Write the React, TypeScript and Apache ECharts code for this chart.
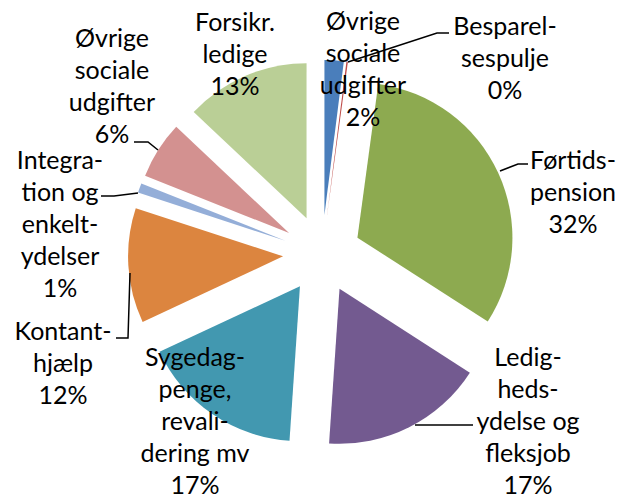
import React, { useEffect, useRef } from "react";
import * as echarts from "echarts";

const categories = [
  "Øvrige\nsociale\nudgifter",
  "Besparel-\nsespulje",
  "Førtids-\npension",
  "Ledig-\nheds-\nydelse og\nfleksjob",
  "Sygedag-\npenge,\nrevali-\ndering mv",
  "Kontant-\nhjælp",
  "Integra-\ntion og\nenkelt-\nydelser",
  "Øvrige\nsociale\nudgifter",
  "Forsikr.\nledige",
];
const values = [2, 0.15, 32, 17, 17, 12, 1, 6, 13];
const percentLabels = ["2%", "0%", "32%", "17%", "17%", "12%", "1%", "6%", "13%"];

const colors = ["#4A7EBB", "#BE4B48", "#8DAA50", "#735A90", "#4298B0", "#DC853F", "#94AED8", "#D39190", "#BACF96"];

// label layout (positions of label centres and leader lines)
const labelCenters: [number, number][] = [
  [363, 68],
  [505, 57],
  [573, 191],
  [528, 420],
  [195, 420],
  [63, 362],
  [60, 223],
  [112, 85],
  [235, 53],
];
const leaderLines: ([number, number][] | null)[] = [
  null,
  [[348, 62], [437, 33], [449, 33]],
  [[500, 171], [518, 164], [528, 164]],
  [[415, 425], [473, 425]],
  null,
  [[130, 273], [128, 338], [116, 338]],
  [[138, 193], [114, 196], [101, 196]],
  [[158, 150], [148, 142], [134, 142]],
  null,
];

export default function App() {
  const ref = useRef<HTMLDivElement>(null);
  useEffect(() => {
    document.body.style.margin = "0";
    const chart = echarts.init(ref.current!, undefined, { renderer: "svg" });
    const graphics: any[] = [];
    leaderLines.forEach((pts) => {
      if (pts)
        graphics.push({
          type: "polyline",
          z: 10,
          silent: true,
          shape: { points: pts },
          style: { stroke: "#000", lineWidth: 1.5, fill: null },
        });
    });
    categories.forEach((c, i) => {
      graphics.push({
        type: "text",
        z: 20,
        silent: true,
        x: labelCenters[i][0],
        y: labelCenters[i][1],
        style: {
          text: c + "\n" + percentLabels[i],
          fill: "#000",
          font: "25px Lato",
          fontFamily: "Lato",
          fontSize: 25,
          lineHeight: 32,
          align: "center",
          verticalAlign: "middle",
        },
      });
    });
    chart.setOption({
      animation: false,
      backgroundColor: "#ffffff",
      graphic: { elements: graphics },
      series: [
        {
          type: "pie",
          center: [322, 254],
          radius: [0, 155],
          startAngle: 90,
          clockwise: true,
          selectedMode: "multiple",
          selectedOffset: 39,
          silent: true,
          emphasis: { disabled: true },
          itemStyle: { borderWidth: 0 },
          label: { show: false },
          labelLine: { show: false },
          data: values.map((v, i) => ({
            name: categories[i].replace(/-\n/g, "").replace(/\n/g, " "),
            value: v,
            selected: true,
            itemStyle: { color: colors[i] },
          })),
        },
      ],
    });
    return () => chart.dispose();
  }, []);
  return <div ref={ref} style={{ width: 627, height: 499 }} />;
}
